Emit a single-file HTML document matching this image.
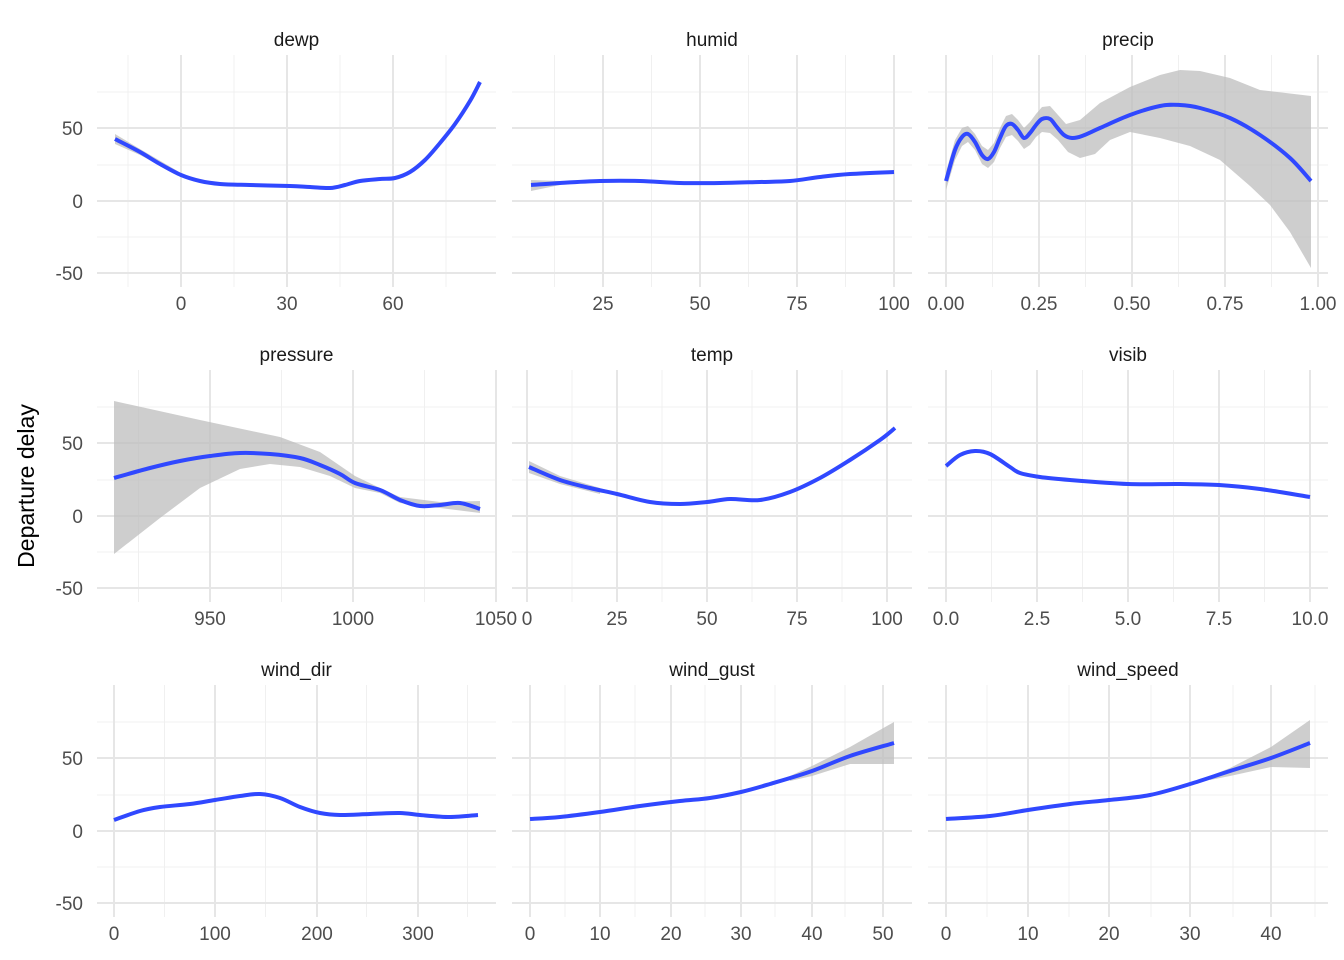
<!DOCTYPE html>
<html><head><meta charset="utf-8"><style>
html,body{margin:0;padding:0;background:#fff;}
svg{display:block;font-family:"Liberation Sans",sans-serif;}
</style></head><body>
<svg id="s" width="1344" height="960" xmlns="http://www.w3.org/2000/svg"></svg>
<script>
const S=document.getElementById('s');let h='';
const cols=[[97,496],[512,912],[928,1328]];
const rowsY=[0,315,630];
const panels=[
 ['dewp',0,0,[[181,'0'],[287,'30'],[393,'60']]],
 ['humid',1,0,[[603,'25'],[700,'50'],[797,'75'],[894,'100']]],
 ['precip',2,0,[[946,'0.00'],[1039,'0.25'],[1132,'0.50'],[1225,'0.75'],[1318,'1.00']]],
 ['pressure',0,1,[[210,'950'],[353,'1000'],[496,'1050']]],
 ['temp',1,1,[[527,'0'],[617,'25'],[707,'50'],[797,'75'],[887,'100']]],
 ['visib',2,1,[[946,'0.0'],[1037,'2.5'],[1128,'5.0'],[1219,'7.5'],[1310,'10.0']]],
 ['wind_dir',0,2,[[114,'0'],[215,'100'],[317,'200'],[418,'300']]],
 ['wind_gust',1,2,[[530,'0'],[600,'10'],[671,'20'],[741,'30'],[812,'40'],[883,'50']]],
 ['wind_speed',2,2,[[946,'0'],[1028,'10'],[1109,'20'],[1190,'30'],[1271,'40']]]
];
for(const [name,c,r,ticks] of panels){
 const [x0,x1]=cols[c];const dy=rowsY[r];const top=55+dy,bot=287+dy;
 for(const y of [92,165,237]) h+=`<line x1="${x0}" x2="${x1}" y1="${y+dy}" y2="${y+dy}" stroke="#f0f0f0" stroke-width="1"/>`;
 const step=ticks[1][0]-ticks[0][0];
 for(let x=ticks[0][0]-step*1.5;x<=x1;x+=step) if(x>=x0) h+=`<line x1="${x}" x2="${x}" y1="${top}" y2="${bot}" stroke="#f0f0f0" stroke-width="1"/>`;
 for(const y of [128,201,273]) h+=`<line x1="${x0}" x2="${x1}" y1="${y+dy}" y2="${y+dy}" stroke="#e6e6e6" stroke-width="2"/>`;
 for(const [x,l] of ticks){ if(x<=x1) h+=`<line x1="${x}" x2="${x}" y1="${top}" y2="${bot}" stroke="#e6e6e6" stroke-width="2"/>`;
   h+=`<text x="${x}" y="${310+dy}" font-size="19" fill="#4d4d4d" text-anchor="middle">${l}</text>`;}
 h+=`<text x="${(x0+x1)/2}" y="${46+dy}" font-size="19" fill="#1a1a1a" text-anchor="middle">${name}</text>`;
 if(c==0) for(const [y,l] of [[128,'50'],[201,'0'],[273,'-50']]) h+=`<text x="83" y="${y+dy+7}" font-size="19" fill="#4d4d4d" text-anchor="end">${l}</text>`;
}
h+=`<text transform="translate(34,486) rotate(-90)" font-size="23" fill="#000" text-anchor="middle">Departure delay</text>`;
const P=a=>a.map(p=>p.join(',')).join(' ');
function band(u,l){h+=`<polygon points="${P(u.concat(l))}" fill="#bdbdbd" fill-opacity="0.75"/>`;}
function line(a){
 let d=`M${a[0][0]},${a[0][1]}`;
 for(let i=0;i<a.length-1;i++){
  const p0=a[Math.max(0,i-1)],p1=a[i],p2=a[i+1],p3=a[Math.min(a.length-1,i+2)];
  const c1=[p1[0]+(p2[0]-p0[0])/6,p1[1]+(p2[1]-p0[1])/6];
  const c2=[p2[0]-(p3[0]-p1[0])/6,p2[1]-(p3[1]-p1[1])/6];
  d+=` C${c1[0].toFixed(1)},${c1[1].toFixed(1)} ${c2[0].toFixed(1)},${c2[1].toFixed(1)} ${p2[0]},${p2[1]}`;
 }
 h+=`<path d="${d}" fill="none" stroke="#3048ff" stroke-width="4" stroke-linejoin="round"/>`;}
band([[115,134],[140,149],[181,173]],[[181,177],[140,155],[115,144]]);
line([[115,139],[140,152],[160,164],[181,175],[200,181],[220,184],[250,185],[290,186],[310,187],[330,188],[345,185],[360,181],[380,179],[395,178],[410,172],[425,160],[440,143],[455,124],[470,101],[480,82]]);
band([[531,180],[560,181]],[[560,185],[531,191]]);
line([[531,185],[560,183],[600,181],[640,181],[680,183],[720,183],[760,182],[790,181],[820,177],[850,174],[894,172]]);
band([[946,172],[955,140],[962,128],[968,126],[975,134],[982,146],[988,150],[994,143],[1000,128],[1006,116],[1012,114],[1018,120],[1024,128],[1030,122],[1036,114],[1042,107],[1050,106],[1058,115],[1066,124],[1080,120],[1100,103],[1130,87],[1160,75],[1180,70],[1200,71],[1230,78],[1260,90],[1311,96]],
 [[1311,268],[1290,232],[1270,205],[1250,186],[1220,160],[1190,146],[1160,138],[1130,132],[1110,140],[1095,154],[1080,158],[1068,152],[1058,140],[1050,133],[1042,132],[1036,137],[1030,145],[1024,149],[1018,141],[1012,135],[1006,137],[1000,148],[994,162],[988,168],[982,164],[975,150],[968,142],[962,146],[955,160],[946,190]]);
line([[946,181],[955,150],[962,137],[968,134],[975,142],[982,155],[988,159],[994,152],[1000,138],[1006,126],[1012,124],[1018,130],[1024,138],[1030,133],[1036,125],[1042,119],[1050,119],[1056,126],[1064,135],[1072,138],[1082,136],[1100,128],[1130,115],[1160,106],[1180,105],[1200,108],[1230,118],[1260,135],[1290,158],[1311,181]]);
band([[114,401],[200,420],[280,437],[320,452],[355,476],[380,488],[400,497],[440,502],[480,501]],[[480,513],[440,508],[400,503],[380,493],[355,488],[330,476],[300,467],[270,464],[240,469],[200,488],[160,518],[114,554]]);
line([[114,478],[150,468],[180,461],[210,456],[240,453],[270,454],[300,458],[320,465],[340,474],[355,483],[380,490],[400,500],[420,506],[440,505],[460,503],[480,509]]);
band([[529,461],[560,476],[600,488]],[[600,494],[560,484],[529,473]]);
line([[529,467],[560,480],[590,488],[617,494],[650,502],[680,504],[707,502],[730,499],[760,500],[790,492],[820,478],[850,460],[880,440],[895,428]]);
line([[946,466],[960,455],[975,451],[990,454],[1010,467],[1020,473],[1040,477],[1070,480],[1128,484],[1180,484],[1219,485],[1260,489],[1310,497]]);
line([[114,820],[140,811],[160,807],[190,804],[215,800],[240,796],[260,794],[280,798],[300,807],[320,813],[340,815],[370,814],[400,813],[420,815],[450,817],[478,815]]);
band([[790,776],[812,766],[850,747],[894,722]],[[894,764],[850,764],[812,776],[790,781]]);
line([[530,819],[560,817],[600,812],[640,806],[680,801],[710,798],[741,792],[770,784],[812,771],[850,756],[894,743]]);
band([[1210,776],[1230,768],[1271,747],[1310,720]],[[1310,768],[1271,767],[1230,776],[1210,780]]);
line([[946,819],[990,816],[1028,810],[1070,804],[1109,800],[1150,795],[1190,784],[1230,771],[1271,758],[1310,743]]);
S.innerHTML=h;
</script>
</body></html>
